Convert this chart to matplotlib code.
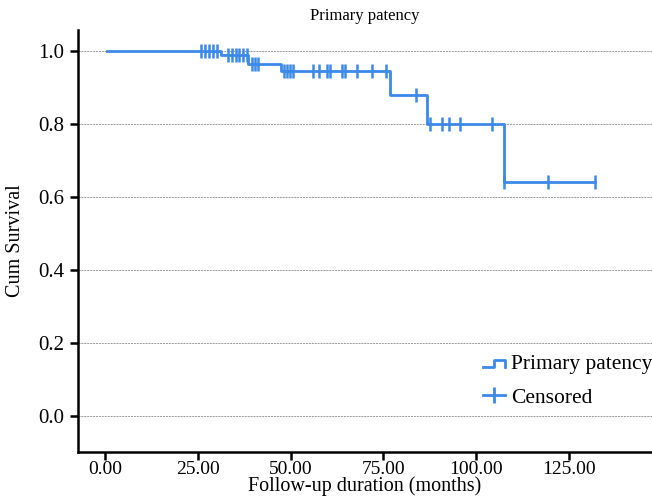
import numpy as np
import matplotlib
matplotlib.use("Agg")
import matplotlib.pyplot as plt
from matplotlib.lines import Line2D
from matplotlib.legend_handler import HandlerBase

plt.rcParams['font.family'] = ['Liberation Serif', 'DejaVu Serif']

# Kaplan-Meier step data (months, cumulative survival)
start_time = 0.6
end_time = 132.0
event_times = [31.2, 38.6, 47.3, 76.8, 86.7, 107.6]
survival_after = [0.989, 0.964, 0.944, 0.879, 0.80, 0.64]
censor_times = [25.9, 26.9, 28.0, 29.0, 30.3,
                33.1, 34.1, 35.2, 36.2, 37.3, 38.2,
                39.5, 40.4, 41.1,
                48.2, 49.1, 49.8, 50.7, 56.0, 57.7, 59.9, 60.6, 63.8, 64.7, 68.0, 71.9, 75.7,
                83.7,
                87.7, 90.7, 92.8, 95.6, 104.4,
                107.6, 119.4, 132.0]
x_ticks = [0, 25, 50, 75, 100, 125]
y_ticks = [0.0, 0.2, 0.4, 0.6, 0.8, 1.0]

color = '#3b89e8'

times = [start_time] + event_times + [end_time]
surv = [1.0] + survival_after + [survival_after[-1]]

def surv_at(t):
    idx = np.searchsorted(np.array(event_times), t, side='right')
    return ([1.0] + survival_after)[idx]

censor_y = [surv_at(t) for t in censor_times]

fig = plt.figure(figsize=(6.52, 4.97), dpi=100)
ax = fig.add_axes([0.1196, 0.0905, 0.8804, 0.8491])

ax.step(times, surv, where='post', color=color, lw=2.0, zorder=3)
ax.plot(censor_times, censor_y, linestyle='none', marker='|', markersize=10,
        markeredgewidth=1.8, color=color, zorder=4)

ax.set_xlim(-7.3, 147.4)
ax.set_ylim(-0.0986, 1.0575)
ax.set_xticks(x_ticks)
ax.set_xticklabels([f"{v:.2f}" for v in x_ticks])
ax.set_yticks(y_ticks)
ax.set_yticklabels([f"{v:.1f}" for v in y_ticks])
ax.yaxis.grid(True, color='#999999', linestyle=(0, (2, 1)), linewidth=0.7)
ax.set_axisbelow(True)

for s in ['top', 'right']:
    ax.spines[s].set_visible(False)
for s in ['left', 'bottom']:
    ax.spines[s].set_linewidth(1.8)
ax.tick_params(axis='both', direction='out', length=6, width=1.8)
ax.tick_params(axis='x', pad=0.5, labelsize=14)
ax.tick_params(axis='y', pad=4, labelsize=15)

ax.set_xlabel('Follow-up duration (months)', fontsize=14.5, labelpad=-1)
ax.set_ylabel('Cum Survival', fontsize=14.5, labelpad=9)
ax.set_title('Primary patency', fontsize=12, pad=7)


class StepHandler(HandlerBase):
    def create_artists(self, legend, orig_handle, xdescent, ydescent, width, height, fontsize, trans):
        x0 = -xdescent
        y0 = -ydescent
        xs = [x0, x0 + width * 0.5, x0 + width * 0.5, x0 + width, x0 + width]
        ys = [y0 + height * 0.1, y0 + height * 0.1, y0 + height * 0.55, y0 + height * 0.55, y0 + height * 0.1]
        ln = Line2D(xs, ys, color=color, lw=2.0)
        ln.set_transform(trans)
        return [ln]


step_handle = Line2D([], [], color=color)
cens_handle = Line2D([0], [0], color=color, lw=2.0, marker='|', markersize=12, markeredgewidth=2.0)
leg = ax.legend([step_handle, cens_handle], ['Primary patency', 'Censored'],
                handler_map={step_handle: StepHandler()},
                loc='lower right', bbox_to_anchor=(1.0, 0.105), frameon=False,
                fontsize=15.5, handlelength=1.05, handletextpad=0.25, labelspacing=0.65,
                borderaxespad=0.0, borderpad=0.0)

fig.savefig('out.png', dpi=100)
